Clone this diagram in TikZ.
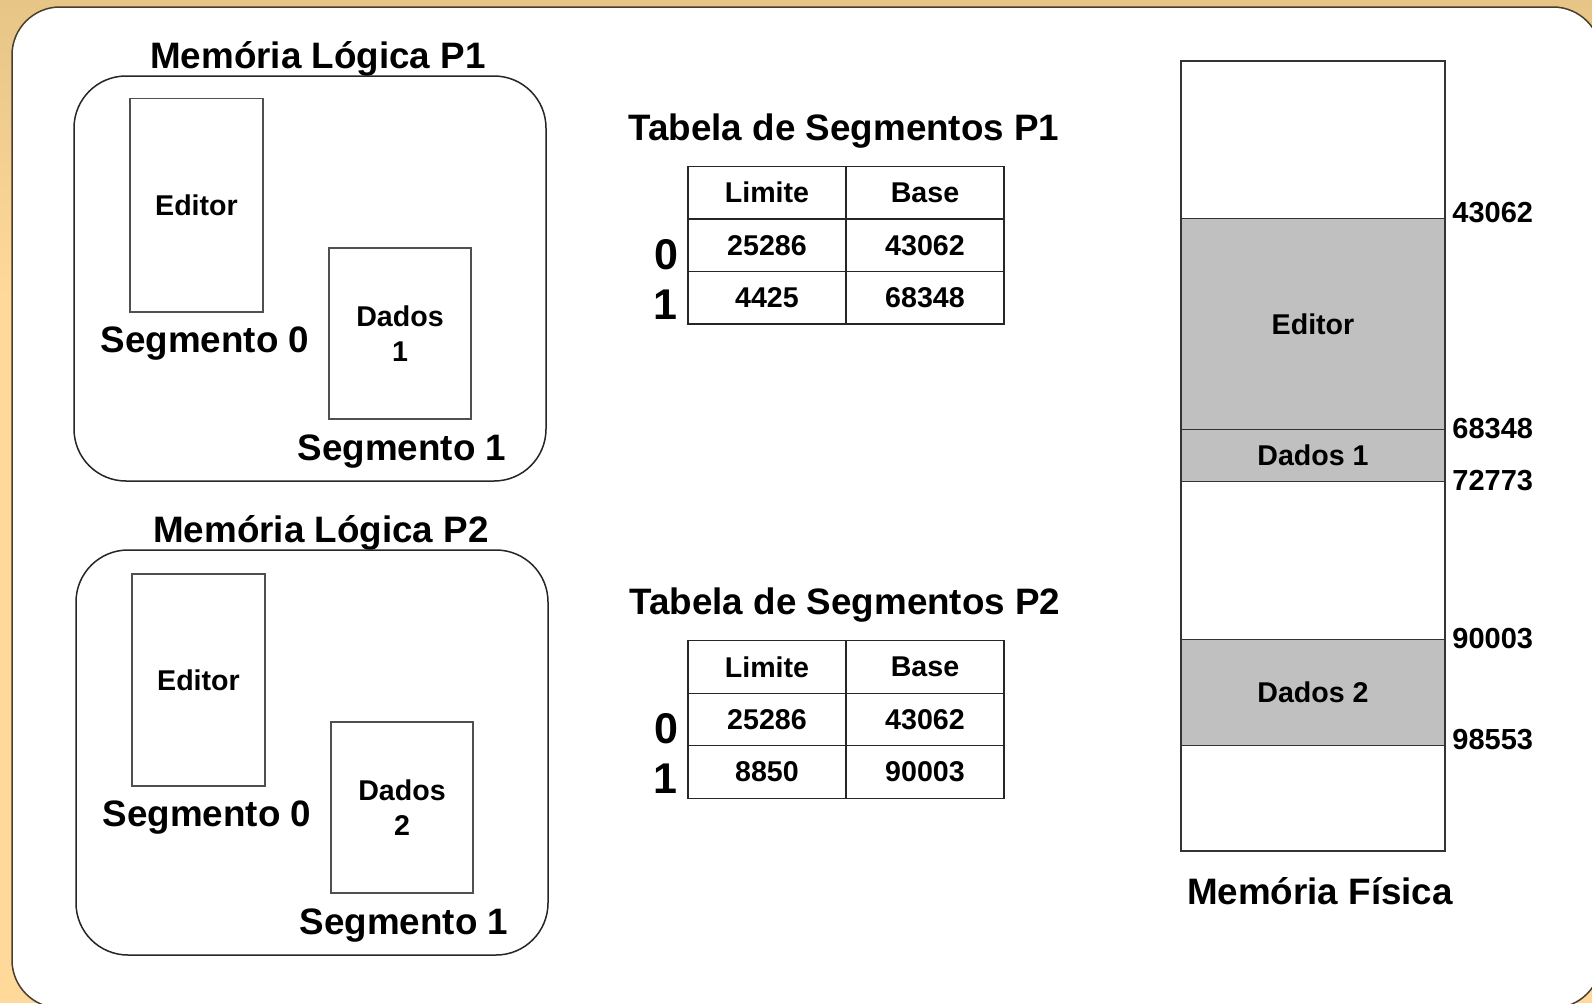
\documentclass[tikz,border=0pt]{standalone}
\usepackage{fontspec}
\setmainfont{Liberation Sans}
\definecolor{bgtop}{HTML}{E6C587}
\definecolor{bgbot}{HTML}{FFD99A}
\definecolor{framec}{HTML}{4A3D2C}
\definecolor{boxc}{HTML}{505050}
\definecolor{segfill}{HTML}{C0C0C0}
\begin{document}
\begin{tikzpicture}[x=0.5pt,y=-0.5pt,
  big/.style={font=\fontsize{18.4}{22}\selectfont\bfseries, inner sep=0pt},
  small/.style={font=\fontsize{14.3}{17.5}\selectfont\bfseries, inner sep=0pt},
  rowlbl/.style={font=\fontsize{21.5}{25}\selectfont\bfseries, inner sep=0pt},
  lbox/.style={draw=black!85, line width=0.75pt, rounded corners=26pt,
    inner sep=0pt, outer sep=0pt},
  segbox/.style={draw=boxc, line width=0.75pt, inner sep=0pt, outer sep=0pt,
    font=\fontsize{14.3}{17.5}\selectfont\bfseries, align=center},
  cell/.style={draw=black!85, line width=0.6pt, inner sep=0pt, outer sep=0pt,
    minimum width=79pt, minimum height=26.25pt,
    font=\fontsize{14.3}{17.5}\selectfont\bfseries},
  mem/.style={draw=black!80, line width=0.6pt, inner sep=0pt, outer sep=0pt,
    minimum width=132pt, font=\fontsize{14.3}{17.5}\selectfont\bfseries},
  addr/.style={font=\fontsize{14.5}{17.5}\selectfont\bfseries, inner sep=0pt, anchor=west}]
\useasboundingbox (0,0) rectangle (1592,1003);
\clip (0,0) rectangle (1592,1003);

% background and white panel
\fill[bgbot] (0,0) rectangle (1592,1003);
\shade[top color=bgtop, bottom color=bgbot] (0,0) rectangle (1592,300);
\draw[framec, line width=0.75pt, fill=white, rounded corners=24pt] (12,7) rectangle (1601,1008);

% ---- logical memory of P1 ----
\node[big] (lt1) at (318,59) {Memória Lógica P1};
\node[lbox, minimum width=236pt, minimum height=202.5pt] (lm1) at (310,278.5) {};
\node[segbox, minimum width=66.5pt, minimum height=106.75pt] (ed1) at (196.5,205.25) {Editor};
\node[segbox, minimum width=71pt, minimum height=85.5pt] (da1) at (400,333.5) {Dados\\1};
\node[big] (s01) at (205,344) {Segmento 0};
\node[big] (s11) at (402,452) {Segmento 1};

% ---- logical memory of P2 ----
\node[big] (lt2) at (321,532.5) {Memória Lógica P2};
\node[lbox, minimum width=236pt, minimum height=202.5pt] (lm2) at (312,752.5) {};
\node[segbox, minimum width=66.5pt, minimum height=106pt] (ed2) at (198.5,680) {Editor};
\node[segbox, minimum width=71pt, minimum height=85.5pt] (da2) at (402,807.5) {Dados\\2};
\node[big] (s02) at (207,817.5) {Segmento 0};
\node[big] (s12) at (404,926) {Segmento 1};

% ---- segment table of P1 ----
\node[big] (tt1) at (844,131) {Tabela de Segmentos P1};
\node[cell] (a1h1) at (767,192.75) {Limite};
\node[cell] (a1h2) at (925,192.75) {Base};
\node[cell] (a1r01) at (767,245.25) {25286};
\node[cell] (a1r02) at (925,245.25) {43062};
\node[cell] (a1r11) at (767,297.75) {4425};
\node[cell] (a1r12) at (925,297.75) {68348};
\node[rowlbl] (a1n0) at (666,255) {0};
\node[rowlbl] (a1n1) at (665,305) {1};

% ---- segment table of P2 ----
\node[big] (tt2) at (845,605) {Tabela de Segmentos P2};
\node[cell] (a2h1) at (767,666.85) {Limite};
\node[cell] (a2h2) at (925,666.85) {Base};
\node[cell] (a2r01) at (767,719.35) {25286};
\node[cell] (a2r02) at (925,719.35) {43062};
\node[cell] (a2r11) at (767,771.85) {8850};
\node[cell] (a2r12) at (925,771.85) {90003};
\node[rowlbl] (a2n0) at (666,729) {0};
\node[rowlbl] (a2n1) at (665,779) {1};

% ---- physical memory ----
\node[mem, minimum height=78.65pt] (pm0) at (1313,139.65) {};
\node[mem, fill=segfill, minimum height=105.6pt] (pm1) at (1313,323.9) {Editor};
\node[mem, fill=segfill, minimum height=25.9pt] (pm2) at (1313,455.4) {Dados 1};
\node[mem, minimum height=79.15pt] (pm3) at (1313,560.45) {};
\node[mem, fill=segfill, minimum height=52.8pt] (pm4) at (1313,692.4) {Dados 2};
\node[mem, minimum height=52.9pt] (pm5) at (1313,798.1) {};

\node[addr] (ad1) at (1452,212.5) {43062};
\node[addr] (ad2) at (1452,428.5) {68348};
\node[addr] (ad3) at (1452,480.5) {72773};
\node[addr] (ad4) at (1452,638.5) {90003};
\node[addr] (ad5) at (1452,739.5) {98553};

\node[big] (pmt) at (1320,891) {Memória Física};
\end{tikzpicture}
\end{document}
